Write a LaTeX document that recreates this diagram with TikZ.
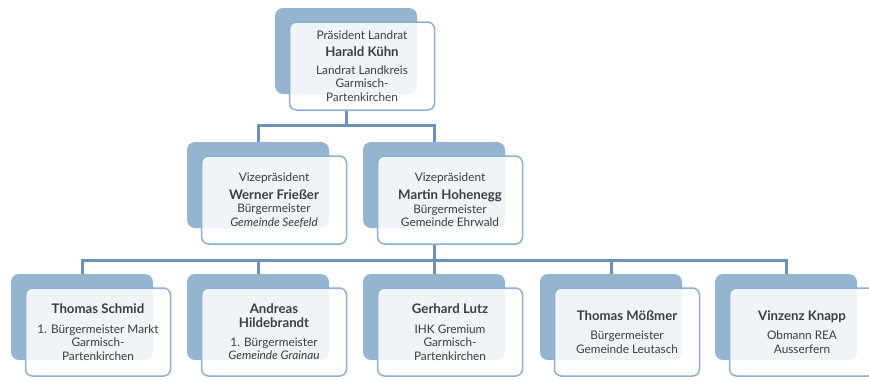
\documentclass[tikz,border=0pt]{standalone}
\usepackage{fontspec}
\setmainfont{Lato}
\usepackage{tikz}
\usetikzlibrary{positioning}
\definecolor{boxblue}{RGB}{148,180,208}
\definecolor{edgeblue}{RGB}{141,175,210}
\definecolor{lineblue}{RGB}{110,146,180}
\definecolor{textgray}{RGB}{62,62,62}
\newcommand{\pname}[1]{{\fontsize{13.2}{13.5}\selectfont\bfseries #1}}

\begin{document}
\begin{tikzpicture}[x=1pt, y=-1pt, font=\fontsize{11.8}{13.5}\selectfont,
back/.style={rectangle, rounded corners=8pt, fill=boxblue,
minimum width=142pt, minimum height=86pt},
front/.style={rectangle, rounded corners=7pt, draw=edgeblue, line width=1.5pt,
fill=white, fill opacity=0.86, text opacity=1, text=textgray,
minimum width=145pt, minimum height=88pt, align=center, inner sep=2pt,
xshift=16pt, yshift=-15pt},
conn/.style={lineblue, line width=3pt}
]
\useasboundingbox (0,0) rectangle (869,380);

% Praesident
\node[back] (kuehnB) at (346,51) {};
\node[front] (kuehn) at (kuehnB)
{Präsident Landrat\\[3.5pt]\pname{Harald Kühn}\\[4.5pt]Landrat Landkreis\\Garmisch-\\Partenkirchen};

% Vizepraesidenten
\node[back] (friesserB) at (258,185) {};
\node[front] (friesser) at (friesserB)
{Vizepräsident\\[4.5pt]\pname{Werner Frießer}\\Bürgermeister\\\textit{Gemeinde Seefeld}};

\node[back] (hoheneggB) at (434,185) {};
\node[front] (hohenegg) at (hoheneggB)
{Vizepräsident\\[4.5pt]\pname{Martin Hohenegg}\\Bürgermeister\\Gemeinde Ehrwald};

% Mitglieder
\node[back] (schmidB) at (82,317) {};
\node[front] (schmid) at (schmidB)
{\pname{Thomas Schmid}\\[6pt]1. Bürgermeister Markt\\Garmisch-\\Partenkirchen};

\node[back] (hildebrandtB) at (258,317) {};
\node[front] (hildebrandt) at (hildebrandtB)
{\pname{Andreas}\\\pname{Hildebrandt}\\[5.5pt]1. Bürgermeister\\\textit{Gemeinde Grainau}};

\node[back] (lutzB) at (434,317) {};
\node[front] (lutz) at (lutzB)
{\pname{Gerhard Lutz}\\[6pt]IHK Gremium\\Garmisch-\\Partenkirchen};

\node[back] (moessmerB) at (611,317) {};
\node[front] (moessmer) at (moessmerB)
{\pname{Thomas Mößmer}\\[5.5pt]Bürgermeister\\Gemeinde Leutasch};

\node[back] (knappB) at (786,317) {};
\node[front] (knapp) at (knappB)
{\pname{Vinzenz Knapp}\\[5.5pt]Obmann REA\\Ausserfern};

% Lines
\coordinate (bus1) at (346,125);
\coordinate (bus2) at (434,260);
\draw[conn] (kuehnB |- kuehn.south) -- (bus1);
\draw[conn] (friesserB.north) |- (bus1) -| (hoheneggB.north);
\draw[conn] (hoheneggB |- hohenegg.south) -- (bus2);
\draw[conn] (schmidB.north) |- (bus2) -| (knappB.north);
\draw[conn] (hildebrandtB.north) -- (hildebrandtB |- bus2);
\draw[conn] (lutzB.north) -- (lutzB |- bus2);
\draw[conn] (moessmerB.north) -- (moessmerB |- bus2);

\end{tikzpicture}
\end{document}
